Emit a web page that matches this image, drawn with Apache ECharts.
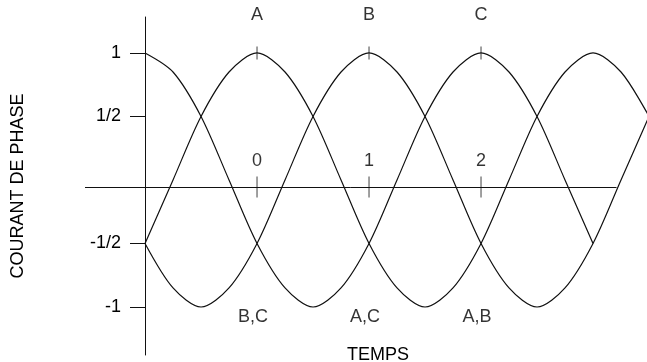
<!DOCTYPE html>
<html>
<head>
<meta charset="utf-8">
<script src="https://cdn.jsdelivr.net/npm/echarts@6/dist/echarts.min.js"></script>
<style>
  html, body { margin: 0; padding: 0; background: #fff; }
  #chart { width: 647px; height: 362px; }
</style>
</head>
<body>
<div id="chart"></div>
<script>
  // temps (unités de 1/3 de période) et valeurs
  const timeSteps = [-1, -0.75, -0.5, -0.25, 0, 0.25, 0.5, 0.75, 1, 1.25,
                     1.5, 1.75, 2, 2.25, 2.5, 2.75, 3, 3.25, 3.5];
  const phaseA = [-0.5, 0, 0.5, 0.85, 1, 0.85, 0.5, 0, -0.5, -0.85,
                  -1, -0.85, -0.5, 0, 0.5, 0.85, 1, 0.85, 0.5];
  const phaseB = [-0.5, -0.85, -1, -0.85, -0.5, 0, 0.5, 0.85, 1, 0.85,
                  0.5, 0, -0.5, -0.85, -1, -0.85, -0.5, 0, 0.5];
  const phaseC = [1, 0.85, 0.5, 0, -0.5, -0.85, -1, -0.85, -0.5, 0,
                  0.5, 0.85, 1, 0.85, 0.5, 0, -0.5, null, null];

  // repères
  const peakNames = ['A', 'B', 'C'];
  const peakTimes = [0, 1, 2];
  const timeLabels = ['0', '1', '2'];
  const pairNames = ['B,C', 'A,C', 'A,B'];
  const yTickValues = [-1, -0.5, 0.5, 1];
  const yTickLabels = ['-1', '-1/2', '1/2', '1'];
  const axisLevel = -0.055;  // l'axe des temps est un peu sous zéro
  const axisStart = -1.536;
  const axisEnd = 3.21;

  const ink = '#000';
  const font = 'Liberation Sans, Arial, sans-serif';

  const toPoints = (vals) => timeSteps.map((t, i) => [t, vals[i]]);

  const chart = echarts.init(document.getElementById('chart'));

  const curve = (name, vals) => ({
    name: name,
    type: 'line',
    data: toPoints(vals),
    smooth: 0.3,
    showSymbol: false,
    connectNulls: false,
    lineStyle: { color: '#111', width: 1.2 },
    silent: true
  });

  const seriesA = curve('A', phaseA);
  // axe horizontal
  seriesA.markLine = {
    silent: true,
    symbol: ['none', 'none'],
    label: { show: false },
    lineStyle: { color: '#111', width: 1, type: 'solid' },
    data: [[{ coord: [axisStart, axisLevel] }, { coord: [axisEnd, axisLevel] }]]
  };

  const textStyle = { fontFamily: font, fontSize: 18, color: ink };

  const option = {
    animation: false,
    backgroundColor: '#fff',
    title: {
      text: 'TEMPS',
      left: 342,
      top: 341,
      textStyle: Object.assign({ fontWeight: 'normal' }, textStyle)
    },
    grid: { left: 85, right: 0, top: 17, bottom: 7 },
    xAxis: {
      type: 'value',
      min: axisStart,
      max: 3.482,
      axisLine: { show: false },
      axisTick: { show: false },
      axisLabel: { show: false },
      splitLine: { show: false }
    },
    yAxis: {
      type: 'value',
      min: -1.378,
      max: 1.283,
      offset: -60,
      name: 'COURANT DE PHASE',
      nameLocation: 'middle',
      nameRotate: 90,
      nameGap: 118,
      nameTextStyle: textStyle,
      axisLine: { show: true, onZero: false, lineStyle: { color: '#111', width: 1 } },
      axisTick: {
        show: true,
        length: 15,
        customValues: yTickValues,
        lineStyle: { color: '#111', width: 1 }
      },
      axisLabel: Object.assign({
        show: true,
        margin: 24,
        customValues: yTickValues,
        formatter: (v) => {
          const i = yTickValues.indexOf(v);
          return i >= 0 ? yTickLabels[i] : '';
        }
      }, textStyle),
      splitLine: { show: false }
    },
    series: [
      seriesA,
      curve('B', phaseB),
      curve('C', phaseC),
      {
        // graduations sur l'axe des temps
        type: 'scatter',
        symbol: 'rect',
        symbolSize: [1, 21],
        itemStyle: { color: '#111' },
        silent: true,
        data: peakTimes.map((t, i) => ({ value: [t, axisLevel], label: { formatter: timeLabels[i] } })),
        label: Object.assign({ show: true, position: 'top', distance: 6 }, textStyle)
      },
      {
        // crêtes A, B, C
        type: 'scatter',
        symbol: 'rect',
        symbolSize: [1, 13],
        itemStyle: { color: '#111' },
        silent: true,
        data: peakTimes.map((t, i) => ({ value: [t, 1], label: { formatter: peakNames[i] } })),
        label: Object.assign({ show: true, position: 'top', distance: 22 }, textStyle)
      },
      {
        // paires au minimum
        type: 'scatter',
        symbolSize: 0,
        silent: true,
        data: peakTimes.map((t, i) => ({ value: [t, -1], label: { formatter: pairNames[i] } })),
        label: Object.assign({ show: true, position: 'bottom', distance: 1, offset: [-4, 0] }, textStyle)
      }
    ]
  };

  chart.setOption(option);
</script>
</body>
</html>
